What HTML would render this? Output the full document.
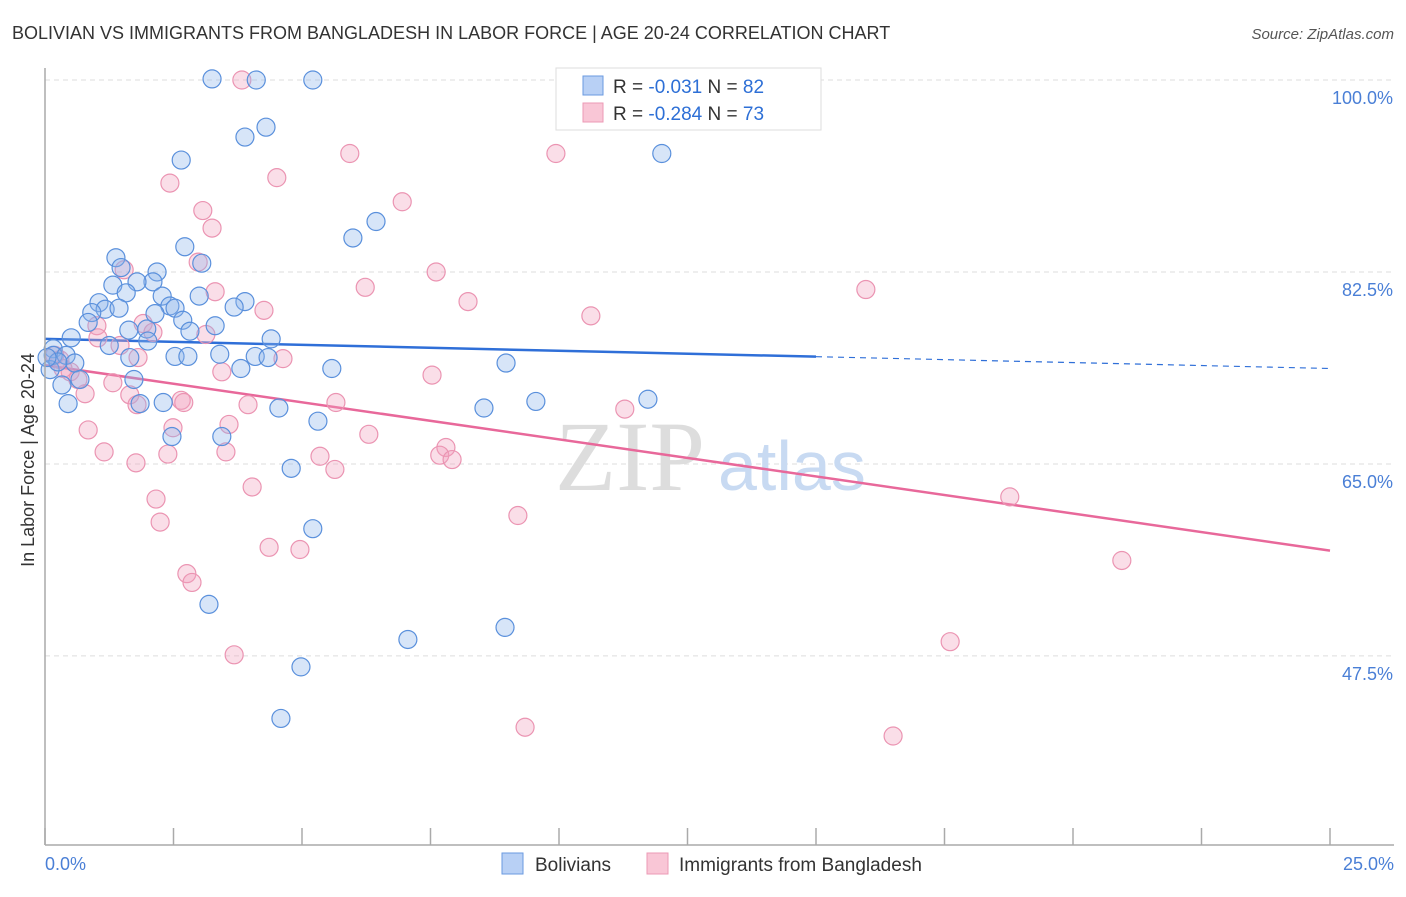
<!DOCTYPE html>
<html><head><meta charset="utf-8"><style>
body{margin:0;background:#fff;font-family:"Liberation Sans",sans-serif}
</style></head><body>
<svg width="1406" height="892" xmlns="http://www.w3.org/2000/svg" style="font-family:'Liberation Sans',sans-serif">
<text x="12" y="39" font-size="18" fill="#333">BOLIVIAN VS IMMIGRANTS FROM BANGLADESH IN LABOR FORCE | AGE 20-24 CORRELATION CHART</text>
<text x="1394" y="39" font-size="15" fill="#555" font-style="italic" text-anchor="end">Source: ZipAtlas.com</text>
<text transform="translate(34,460) rotate(-90)" font-size="18" fill="#333" text-anchor="middle">In Labor Force | Age 20-24</text>
<g id="grid"></g>
<text x="555" y="490" font-size="100" fill="#ddd" font-family="Liberation Serif">ZIP</text>
<text x="718" y="490" font-size="70" fill="#c8daf2">atlas</text>
<g id="lines"></g>
<g id="pts"></g>
<line x1="45" y1="68" x2="45" y2="845" stroke="#aaa" stroke-width="1.5"/>
<line x1="45" y1="845" x2="1394" y2="845" stroke="#aaa" stroke-width="1.5"/>
<g id="xt"></g>
<text x="45" y="870" font-size="18" fill="#4a7fd6">0.0%</text>
<text x="1394" y="870" font-size="18" fill="#4a7fd6" text-anchor="end">25.0%</text>
<g>
<rect x="556" y="68" width="265" height="62" fill="#fff" stroke="#ddd"/>
<rect x="583" y="76" width="20" height="19" fill="#b8d0f5" stroke="#6a9ae0"/>
<rect x="583" y="103" width="20" height="19" fill="#f9c6d6" stroke="#ec9ab5"/>
<text x="613" y="93" font-size="19" fill="#333">R = <tspan fill="#2d6fd6">-0.031</tspan>   N = <tspan fill="#2d6fd6">82</tspan></text>
<text x="613" y="120" font-size="19" fill="#333">R = <tspan fill="#2d6fd6">-0.284</tspan>   N = <tspan fill="#2d6fd6">73</tspan></text>
</g>
<g>
<rect x="502" y="853" width="21" height="21" fill="#b8d0f5" stroke="#6a9ae0"/>
<text x="535" y="871" font-size="19" fill="#333">Bolivians</text>
<rect x="647" y="853" width="21" height="21" fill="#f9c6d6" stroke="#ec9ab5"/>
<text x="679" y="871" font-size="19" fill="#333">Immigrants from Bangladesh</text>
</g>
</svg>
<script>
const yTicks=[100,82.5,65,47.5];
const yTickLabels=["100.0%","82.5%","65.0%","47.5%"];
const blueX=[3.25,4.11,5.21,11.28,4.30,3.89,2.65,12.00,6.44,5.99,2.72,1.38,1.48,2.18,3.05,1.32,2.10,1.79,1.58,1.05,1.17,1.44,2.28,2.43,2.53,3.00,3.89,3.68,0.91,0.84,1.63,1.98,2.14,2.68,2.82,3.31,4.40,2.00,0.51,1.25,0.16,0.16,0.41,0.58,1.65,2.53,2.78,3.40,4.09,4.34,3.81,5.58,8.97,1.73,0.33,0.68,0.45,2.30,1.85,4.55,8.54,9.55,11.73,5.31,2.47,3.44,4.79,5.21,3.19,7.06,8.95,4.98,4.59,0.10,0.25,0.04];
const blueY=[100.1,100,100,100,95.7,94.8,92.7,93.3,87.1,85.6,84.8,83.8,82.9,82.5,83.3,81.3,81.6,81.6,80.6,79.7,79.1,79.2,80.3,79.4,79.2,80.3,79.8,79.3,78.8,77.9,77.2,77.3,78.7,78.1,77.1,77.6,76.4,76.2,76.5,75.8,75.5,74.9,74.9,74.2,74.7,74.8,74.8,75.0,74.8,74.7,73.7,73.7,74.2,72.7,72.2,72.7,70.5,70.6,70.5,70.1,70.1,70.7,70.9,68.9,67.5,67.5,64.6,59.1,52.2,49.0,50.1,46.5,41.8,73.6,74.3,74.7];
const pinkX=[3.83,5.93,9.94,2.43,4.51,3.07,3.25,6.95,2.98,7.61,1.54,6.23,3.31,8.23,15.97,4.26,10.62,1.91,1.01,2.10,3.13,1.03,1.46,4.63,1.81,3.44,7.53,1.32,1.65,0.78,2.65,2.70,1.79,3.95,5.66,0.84,2.49,3.58,6.30,1.15,2.39,3.52,5.35,7.80,7.68,7.92,1.77,5.64,4.03,11.28,2.16,9.20,2.24,18.77,4.36,4.96,20.95,2.76,2.86,3.68,17.61,9.34,16.50,0.29,0.49,0.64,0.19,0.35];
const pinkY=[100,93.3,93.3,90.6,91.1,88.1,86.5,88.9,83.4,82.5,82.7,81.1,80.7,79.8,80.9,79.0,78.5,77.8,77.6,77.0,76.8,76.5,75.8,74.6,74.7,73.4,73.1,72.4,71.3,71.4,70.8,70.6,70.4,70.4,70.6,68.1,68.3,68.6,67.7,66.1,65.9,66.1,65.7,66.5,65.8,65.4,65.1,64.5,62.9,70.0,61.8,60.3,59.7,62.0,57.4,57.2,56.2,55.0,54.2,47.6,48.8,41.0,40.2,74.5,73.4,72.7,74.9,73.7];
const blueTrend=[76.4,73.7];
const pinkTrend=[74.0,57.1];
const NS='http://www.w3.org/2000/svg';
function sx(v){return 45+v*1285/25;}
function sy(v){return 80+(100-v)*10.97;}
function mk(t,a,p){const e=document.createElementNS(NS,t);for(const k in a)e.setAttribute(k,a[k]);p.appendChild(e);return e;}
const grid=document.getElementById('grid');
yTicks.forEach((t,i)=>{
 const l=mk('line',{x1:45,x2:1394,y1:sy(t),y2:sy(t),stroke:'#ddd','stroke-dasharray':'5,4'},grid);
 
 
 const tx=mk('text',{x:1393,y:sy(t)+24,'font-size':18,fill:'#4a7fd6','text-anchor':'end'},grid);
 tx.textContent=yTickLabels[i];
 
 
});
const xt=document.getElementById('xt');
for(let i=0;i<=10;i++){
 const l=mk('line',{x1:sx(i*2.5),x2:sx(i*2.5),y1:828,y2:845,stroke:'#aaa','stroke-width':1.5},xt);
 
 
}
const pts=document.getElementById('pts');
pinkX.forEach((x,i)=>{
 const c=mk('circle',{cx:sx(x),cy:sy(pinkY[i]),r:9,fill:'rgba(242,160,188,0.35)',stroke:'#eb94b2','stroke-width':1.2},pts);
 
 
});
blueX.forEach((x,i)=>{
 const c=mk('circle',{cx:sx(x),cy:sy(blueY[i]),r:9,fill:'rgba(140,180,235,0.35)',stroke:'#5a90dc','stroke-width':1.2},pts);
 
 
});
const lines=document.getElementById('lines');
function ty(tr,x){return tr[0]+(tr[1]-tr[0])*x/25;}
let l1=mk('line',{x1:sx(0),y1:sy(ty(blueTrend,0)),x2:sx(15),y2:sy(ty(blueTrend,15)),stroke:'#2f6fd8','stroke-width':2.5},lines);


let l2=mk('line',{x1:sx(15),y1:sy(ty(blueTrend,15)),x2:sx(25),y2:sy(ty(blueTrend,25)),stroke:'#2f6fd8','stroke-width':1.2,'stroke-dasharray':'6,5'},lines);


let l3=mk('line',{x1:sx(0),y1:sy(ty(pinkTrend,0)),x2:sx(25),y2:sy(ty(pinkTrend,25)),stroke:'#e8689a','stroke-width':2.5},lines);


</script>
</body></html>
